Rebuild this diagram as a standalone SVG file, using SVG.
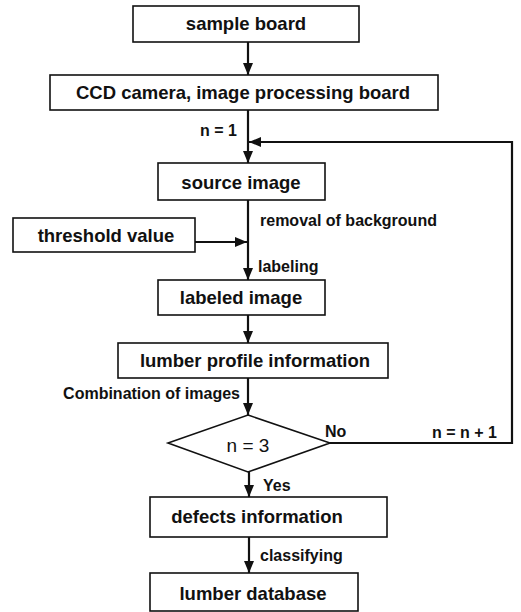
<svg xmlns="http://www.w3.org/2000/svg" width="521" height="612" viewBox="0 0 521 612">
<defs>
<marker id="ah" viewBox="0 0 12 10" refX="12" refY="5" markerWidth="12" markerHeight="10" markerUnits="userSpaceOnUse" orient="auto">
<path d="M0,0 L12,5 L0,10 z" fill="#111"/>
</marker>
<style>
.box{fill:#fff;stroke:#111;stroke-width:1.6}
.t{font-family:"Liberation Sans",Arial,sans-serif;font-weight:bold;font-size:18.5px;fill:#111;text-anchor:middle}
.l{font-family:"Liberation Sans",Arial,sans-serif;font-weight:bold;font-size:16px;fill:#111}
.c{fill:none;stroke:#111;stroke-width:2.2}
</style>
</defs>
<rect width="521" height="612" fill="#fff"/>
<g id="connectors">
<line class="c" x1="248" y1="42" x2="248" y2="75" marker-end="url(#ah)"/>
<line class="c" x1="248" y1="110" x2="248" y2="163" marker-end="url(#ah)"/>
<polyline class="c" points="330,443 512,443 512,142 249,142" marker-end="url(#ah)"/>
<line class="c" x1="248" y1="200" x2="248" y2="280" marker-end="url(#ah)"/>
<line class="c" x1="195" y1="242" x2="247" y2="242" marker-end="url(#ah)"/>
<line class="c" x1="248" y1="315" x2="248" y2="343" marker-end="url(#ah)"/>
<line class="c" x1="248" y1="378" x2="248" y2="415" marker-end="url(#ah)"/>
<line class="c" x1="249" y1="472" x2="249" y2="497" marker-end="url(#ah)"/>
<line class="c" x1="249" y1="537" x2="249" y2="573" marker-end="url(#ah)"/>
<text class="l" x="237" y="136" text-anchor="end">n = 1</text>
<text class="l" x="260" y="226">removal of background</text>
<text class="l" x="258" y="272">labeling</text>
<text class="l" x="240" y="399" text-anchor="end">Combination of images</text>
<text class="l" x="325" y="437">No</text>
<text class="l" x="432" y="438">n = n + 1</text>
<text class="l" x="263" y="491">Yes</text>
<text class="l" x="260" y="561">classifying</text>
</g>
<g id="sample-board">
<rect class="box" x="133" y="6" width="226" height="36"/>
<text class="t" x="246" y="30">sample board</text>
</g>
<g id="ccd-camera">
<rect class="box" x="50" y="75" width="388" height="35"/>
<text class="t" x="243" y="99">CCD camera, image processing board</text>
</g>
<g id="source-image">
<rect class="box" x="158" y="163" width="167" height="37"/>
<text class="t" x="241" y="189">source image</text>
</g>
<g id="threshold-value">
<rect class="box" x="13" y="218" width="182" height="34"/>
<text class="t" x="106" y="242">threshold value</text>
</g>
<g id="labeled-image">
<rect class="box" x="158" y="280" width="167" height="35"/>
<text class="t" x="241" y="304">labeled image</text>
</g>
<g id="lumber-profile">
<rect class="box" x="118" y="343" width="270" height="35"/>
<text class="t" x="255" y="367">lumber profile information</text>
</g>
<g id="decision">
<polygon class="box" points="248,415 330,443 248,472 168,443"/>
<text class="t" x="248" y="452" style="font-weight:normal;font-size:19px">n = 3</text>
</g>
<g id="defects-information">
<rect class="box" x="150" y="497" width="237" height="40"/>
<text class="t" x="257" y="523">defects information</text>
</g>
<g id="lumber-database">
<rect class="box" x="150" y="573" width="208" height="38"/>
<text class="t" x="253" y="600">lumber database</text>
</g>
</svg>
